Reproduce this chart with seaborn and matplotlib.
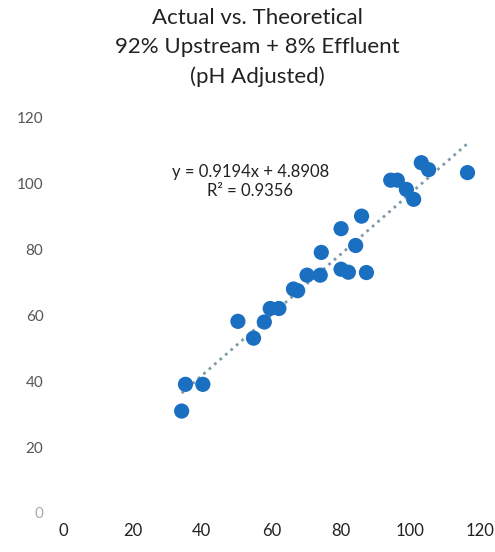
import matplotlib
matplotlib.use("Agg")
import matplotlib.pyplot as plt
import seaborn as sns
import numpy as np
import pandas as pd

# Theoretical vs. actual values
theoretical = [34.2, 35.3, 40.3, 50.4, 54.9, 58.0, 59.7, 62.2, 66.4, 67.6,
               70.3, 74.1, 74.4, 80.1, 80.1, 82.2, 84.3, 86.0, 87.4, 94.4,
               96.3, 98.9, 101.0, 103.2, 105.3, 116.5]
actual = [30.9, 39.0, 39.0, 58.1, 53.0, 57.9, 62.0, 62.0, 67.9, 67.4,
          72.1, 72.1, 79.0, 86.2, 73.9, 73.0, 81.1, 90.0, 72.9, 100.9,
          100.9, 98.1, 95.1, 106.2, 104.1, 103.2]

# Linear trend line
slope = 0.9194
intercept = 4.8908
r_squared = 0.9356

tick_values = [0, 20, 40, 60, 80, 100, 120]

df = pd.DataFrame({"Theoretical": theoretical, "Actual": actual})

sns.set_theme(style="white")
plt.rcParams["font.family"] = ["Lato", "DejaVu Sans"]

fig = plt.figure(figsize=(4.95, 5.52), dpi=100)
ax = fig.add_axes([0.127, 0.0707, 0.842, 0.717])

# trend line spanning the data range
xs = np.array([min(theoretical), max(theoretical)])
ax.plot(xs, slope * xs + intercept, linestyle=(0, (1, 1.6)), linewidth=2.0,
        color="#7f9aa8", zorder=1)

sns.scatterplot(data=df, x="Theoretical", y="Actual", ax=ax, s=120,
                color="#1a6fc0", edgecolor="none", zorder=2, legend=False)

ax.set_xlim(0, 120)
ax.set_ylim(0, 120)
ax.set_xticks(tick_values)
ax.set_yticks(tick_values)
ax.set_xticklabels([str(v) for v in tick_values], fontsize=12, color="#222222")
ax.set_yticklabels([str(v) for v in tick_values], fontsize=11, color="#555555")
ax.get_yticklabels()[0].set_color("#aaaaaa")
ax.tick_params(axis="x", length=0, pad=7)
ax.tick_params(axis="y", length=0, pad=14)
ax.set_xlabel("")
ax.set_ylabel("")
for sp in ax.spines.values():
    sp.set_visible(False)
ax.grid(False)

ax.text(54.0, 103.3, f"y = {slope}x + {intercept}", ha="center", va="center",
        fontsize=12, color="#222222")
ax.text(54.0, 97.6, f"R² = {r_squared}", ha="center", va="center",
        fontsize=12, color="#222222")

fig.text(0.52, 0.985, "Actual vs. Theoretical\n92% Upstream + 8% Effluent\n(pH Adjusted)",
         ha="center", va="top", fontsize=16, color="#222222", linespacing=1.55)

fig.savefig("out.png", dpi=100, facecolor="white")
